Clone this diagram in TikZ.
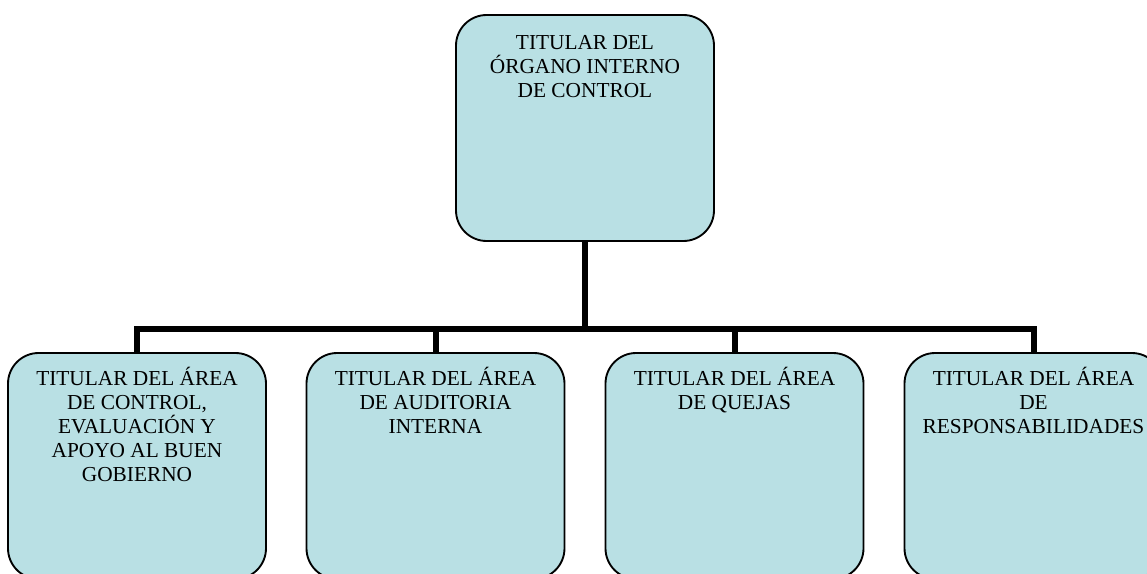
\documentclass[tikz,border=0pt]{standalone}
\usepackage{fontspec}
\setmainfont{Liberation Serif}
\usetikzlibrary{calc}
\definecolor{boxfill}{RGB}{185,224,228}
\tikzset{
  orgbox/.style={draw=black, line width=1.4pt, fill=boxfill, rounded corners=23pt,
    minimum width=193.5pt, minimum height=169.5pt, inner sep=0pt},
  lbl/.style={anchor=base, inner sep=0pt, font=\fontsize{16}{18}\selectfont},
  conn/.style={line width=4.5pt, line join=miter, line cap=butt}
}
\newcommand{\boxtext}[1]{\parbox[t]{188pt}{\centering #1}}
\begin{document}
\begin{tikzpicture}[x=0.75pt, y=-0.75pt]
\useasboundingbox (0,0) rectangle (1147,574);
\node[orgbox] (top) at (585,128) {};
\node[orgbox] (b1) at (137,466) {};
\node[orgbox] (b2) at (435.5,466) {};
\node[orgbox] (b3) at (734.5,466) {};
\node[orgbox] (b4) at (1033.5,466) {};
\coordinate (bus) at (585,329);
\draw[conn] (top.south) -- (bus);
\draw[conn] (b1.north) |- (bus) -| (b4.north);
\draw[conn] (b2.north) -- (b2.north |- bus);
\draw[conn] (b3.north) -- (b3.north |- bus);
\node[lbl] (ttop) at ($(top.north)+(0,35)$) {\boxtext{TITULAR DEL\\ÓRGANO INTERNO\\DE CONTROL}};
\node[lbl] (t1) at ($(b1.north)+(0,33)$) {\boxtext{TITULAR DEL ÁREA\\DE CONTROL,\\EVALUACIÓN Y\\APOYO AL BUEN\\GOBIERNO}};
\node[lbl] (t2) at ($(b2.north)+(0,33)$) {\boxtext{TITULAR DEL ÁREA\\DE AUDITORIA\\INTERNA}};
\node[lbl] (t3) at ($(b3.north)+(0,33)$) {\boxtext{TITULAR DEL ÁREA\\DE QUEJAS}};
\node[lbl] (t4) at ($(b4.north)+(0,33)$) {\boxtext{TITULAR DEL ÁREA\\DE\\RESPONSABILIDADES}};
\end{tikzpicture}
\end{document}
